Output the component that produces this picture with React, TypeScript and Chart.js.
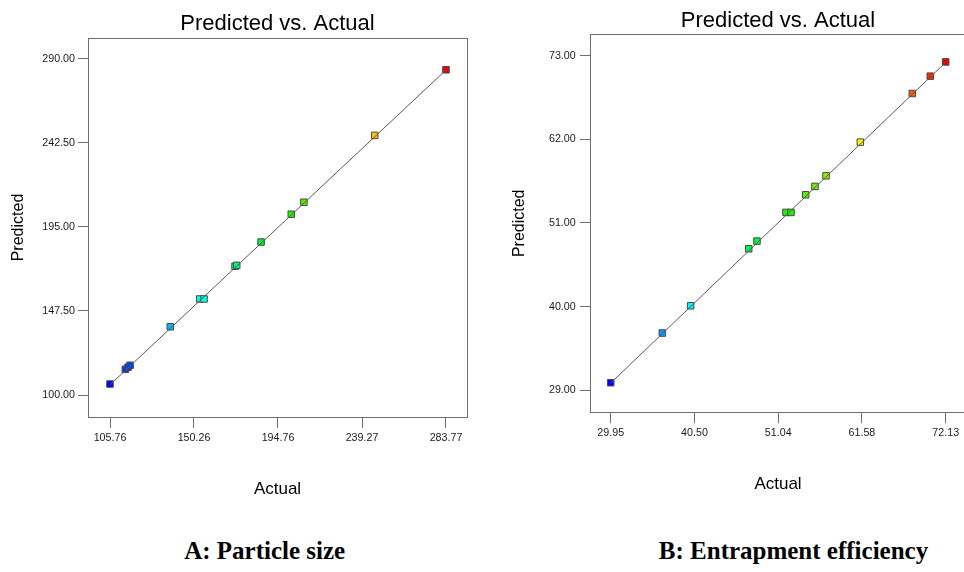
import React, { useEffect, useRef } from "react";
import { Chart, registerables } from "chart.js";

Chart.register(...registerables);

// ---------- data ----------
const plotTitle = "Predicted vs. Actual";
const xAxisTitle = "Actual";
const yAxisTitle = "Predicted";

const captionA = "A: Particle size";
const actualA = [105.76, 113.9, 115.3, 116.4, 137.7, 153.3, 155.6, 172.0, 172.9, 185.8, 201.8, 208.5, 246.0, 283.77];
const predictedA = [106.2, 114.5, 115.7, 116.8, 138.6, 154.3, 154.3, 172.8, 173.3, 186.5, 202.2, 209.0, 246.8, 283.9];
const xTicksA = [105.76, 150.26, 194.76, 239.27, 283.77];
const yTicksA = [100.0, 147.5, 195.0, 242.5, 290.0];

const captionB = "B: Entrapment efficiency";
const actualB = [29.95, 36.45, 40.02, 47.33, 48.37, 52.02, 52.65, 54.5, 55.67, 57.06, 61.38, 67.92, 70.19, 72.13];
const predictedB = [30.0, 36.53, 40.12, 47.61, 48.62, 52.39, 52.39, 54.71, 55.81, 57.2, 61.63, 68.03, 70.31, 72.18];
const xTicksB = [29.95, 40.5, 51.04, 61.58, 72.13];
const yTicksB = [29.0, 40.0, 51.0, 62.0, 73.0];

// ---------- styling helpers ----------
const SANS = "'Liberation Sans', Arial, sans-serif";
const SERIF = "'Liberation Serif', 'Times New Roman', serif";
const AXIS_GRAY = "#6f6f6f";

function rainbow(t: number): string {
  const stops = [
    [0, 0, 255],
    [0, 255, 255],
    [0, 240, 0],
    [255, 240, 0],
    [240, 0, 0],
  ];
  const tt = Math.max(0, Math.min(1, t)) * 4;
  const i = Math.min(3, Math.floor(tt));
  const f = tt - i;
  const a = stops[i];
  const b = stops[i + 1];
  const c = a.map((v, k) => Math.round(v + (b[k] - v) * f));
  return `rgb(${c[0]},${c[1]},${c[2]})`;
}

const boxPlugin = {
  id: "boxOutline",
  beforeDatasetsDraw(chart: any) {
    const { ctx, chartArea } = chart;
    ctx.save();
    ctx.strokeStyle = AXIS_GRAY;
    ctx.lineWidth = 1;
    const l = Math.round(chartArea.left) + 0.5;
    const t = Math.round(chartArea.top) + 0.5;
    const r = Math.round(chartArea.right) + 0.5;
    const b = Math.round(chartArea.bottom) + 0.5;
    ctx.strokeRect(l, t, r - l, b - t);
    ctx.restore();
  },
};

interface Layout {
  padRight: number;
  yWidth: number;
  xHeight: number;
  titlePad: { top: number; bottom: number };
  xRange: [number, number];
  yRange: [number, number];
  xTickPad: number;
  yTickPad: number;
  xTitlePadBottom: number;
  yTitlePadTop: number;
}

function makeConfig(actual: number[], predicted: number[], xTicks: number[], yTicks: number[], L: Layout): any {
  const pMin = Math.min(...predicted);
  const pMax = Math.max(...predicted);
  const aMin = Math.min(...actual);
  const aMax = Math.max(...actual);
  const colors = predicted.map((p) => rainbow((p - pMin) / (pMax - pMin)));
  return {
    type: "scatter",
    data: {
      datasets: [
        {
          data: [
            { x: aMin, y: aMin },
            { x: aMax, y: aMax },
          ],
          showLine: true,
          borderColor: "#5a5a5a",
          borderWidth: 1,
          pointRadius: 0,
          order: 0,
        },
        {
          data: actual.map((a, i) => ({ x: a, y: predicted[i] })),
          pointStyle: "rect",
          pointRadius: 4.6,
          pointBackgroundColor: colors,
          pointBorderColor: "#4a4a4a",
          pointBorderWidth: 1,
          order: 1,
        },
      ],
    },
    options: {
      responsive: false,
      animation: false,
      devicePixelRatio: 1,
      layout: { padding: { left: 0, right: L.padRight, top: 0, bottom: 0 } },
      plugins: {
        legend: { display: false },
        tooltip: { enabled: false },
        title: {
          display: true,
          text: plotTitle,
          fullSize: false,
          color: "#000",
          font: { family: SANS, size: 22, weight: "normal", lineHeight: 1.2 },
          padding: L.titlePad,
        },
      },
      scales: {
        x: {
          type: "linear",
          min: L.xRange[0],
          max: L.xRange[1],
          afterBuildTicks: (scale: any) => {
            scale.ticks = xTicks.map((v) => ({ value: v }));
          },
          afterFit: (scale: any) => {
            scale.height = L.xHeight;
          },
          border: { display: false },
          grid: {
            display: true,
            drawOnChartArea: false,
            drawTicks: true,
            tickLength: 11,
            tickColor: AXIS_GRAY,
            color: AXIS_GRAY,
          },
          ticks: {
            padding: L.xTickPad,
            color: "#1a1a1a",
            maxRotation: 0,
            autoSkip: false,
            font: { family: SANS, size: 10.7 },
            callback: (v: any) => Number(v).toFixed(2),
          },
          title: {
            display: true,
            text: xAxisTitle,
            color: "#000",
            font: { family: SANS, size: 17, weight: "normal", lineHeight: 1.2 },
            padding: { top: 0, bottom: L.xTitlePadBottom },
          },
        },
        y: {
          type: "linear",
          min: L.yRange[0],
          max: L.yRange[1],
          afterBuildTicks: (scale: any) => {
            scale.ticks = yTicks.map((v) => ({ value: v }));
          },
          afterFit: (scale: any) => {
            scale.width = L.yWidth;
          },
          border: { display: false },
          grid: {
            display: true,
            drawOnChartArea: false,
            drawTicks: true,
            tickLength: 10,
            tickColor: AXIS_GRAY,
            color: AXIS_GRAY,
          },
          ticks: {
            padding: L.yTickPad,
            color: "#1a1a1a",
            autoSkip: false,
            font: { family: SANS, size: 10.7 },
            callback: (v: any) => Number(v).toFixed(2),
          },
          title: {
            display: true,
            text: yAxisTitle,
            color: "#000",
            font: { family: SANS, size: 16, weight: "normal", lineHeight: 1.2 },
            padding: { top: L.yTitlePadTop, bottom: 0 },
          },
        },
      },
    },
    plugins: [boxPlugin],
  };
}

function PlotCanvas(props: { config: any; left: number; width: number; height: number }) {
  const ref = useRef<HTMLCanvasElement | null>(null);
  useEffect(() => {
    if (!ref.current) return;
    const chart = new Chart(ref.current, props.config);
    return () => chart.destroy();
  }, []);
  return (
    <canvas
      ref={ref}
      width={props.width}
      height={props.height}
      style={{ position: "absolute", left: props.left, top: 0, width: props.width, height: props.height, display: "block" }}
    />
  );
}

const captionStyle = (center: number): React.CSSProperties => ({
  position: "absolute",
  left: center - 250,
  width: 500,
  top: 536,
  lineHeight: "30px",
  height: 30,
  textAlign: "center",
  fontFamily: SERIF,
  fontWeight: "bold",
  fontSize: 25,
  color: "#000",
  whiteSpace: "nowrap",
});

export default function App() {
  const configA = makeConfig(actualA, predictedA, xTicksA, yTicksA, {
    padRight: 13,
    yWidth: 88,
    xHeight: 103,
    titlePad: { top: 10.8, bottom: 0.8 },
    xRange: [94.1, 294.9],
    yRange: [87.56, 301.87],
    xTickPad: 3.7,
    yTickPad: 3,
    xTitlePadBottom: 20.3,
    yTitlePadTop: 9.2,
  });
  const configB = makeConfig(actualB, predictedB, xTicksB, yTicksB, {
    padRight: 8,
    yWidth: 106,
    xHeight: 107.7,
    titlePad: { top: 7.6, bottom: 0.3 },
    xRange: [27.344, 74.686],
    yRange: [26.11, 75.81],
    xTickPad: 3.7,
    yTickPad: 4.3,
    xTitlePadBottom: 25.7,
    yTitlePadTop: 26.2,
  });
  return (
    <div
      style={{
        position: "fixed",
        left: 0,
        top: 0,
        width: 964,
        height: 572,
        overflow: "hidden",
        background: "#fff",
      }}
    >
      <PlotCanvas config={configA} left={0} width={480} height={520} />
      <PlotCanvas config={configB} left={484} width={490} height={520} />
      <div style={captionStyle(264.7)}>{captionA}</div>
      <div style={captionStyle(793.5)}>{captionB}</div>
    </div>
  );
}
